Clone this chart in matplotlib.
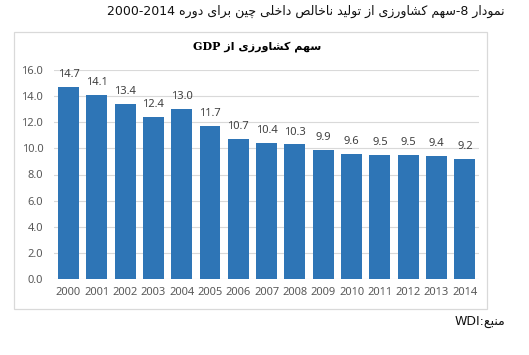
import re
import matplotlib
matplotlib.use("Agg")
import matplotlib.pyplot as plt
from matplotlib.patches import Rectangle

#
# Data
#

years = ["2000", "2001", "2002", "2003", "2004", "2005", "2006", "2007",
         "2008", "2009", "2010", "2011", "2012", "2013", "2014"]
agri_share = [14.7, 14.1, 13.4, 12.4, 13.0, 11.7, 10.7, 10.4,
              10.3, 9.9, 9.6, 9.5, 9.5, 9.4, 9.2]
y_ticks = [0, 2, 4, 6, 8, 10, 12, 14, 16]

fig_title = "نمودار 8-سهم کشاورزی از تولید ناخالص داخلی چین برای دوره 2014-2000"
chart_title = "سهم کشاورزی از GDP"
source_text = "منبع:WDI"

#
# Minimal Arabic/Persian shaping (matplotlib has no bidi/shaping)
#

# isolated, final[, initial, medial]
FORMS = {
    "ا": ("\uFE8D", "\uFE8E"),
    "د": ("\uFEA9", "\uFEAA"),
    "ر": ("\uFEAD", "\uFEAE"),
    "ز": ("\uFEAF", "\uFEB0"),
    "و": ("\uFEED", "\uFEEE"),
    "ب": ("\uFE8F", "\uFE90", "\uFE91", "\uFE92"),
    "ت": ("\uFE95", "\uFE96", "\uFE97", "\uFE98"),
    "خ": ("\uFEA5", "\uFEA6", "\uFEA7", "\uFEA8"),
    "س": ("\uFEB1", "\uFEB2", "\uFEB3", "\uFEB4"),
    "ش": ("\uFEB5", "\uFEB6", "\uFEB7", "\uFEB8"),
    "ص": ("\uFEB9", "\uFEBA", "\uFEBB", "\uFEBC"),
    "ع": ("\uFEC9", "\uFECA", "\uFECB", "\uFECC"),
    "ل": ("\uFEDD", "\uFEDE", "\uFEDF", "\uFEE0"),
    "م": ("\uFEE1", "\uFEE2", "\uFEE3", "\uFEE4"),
    "ن": ("\uFEE5", "\uFEE6", "\uFEE7", "\uFEE8"),
    "ه": ("\uFEE9", "\uFEEA", "\uFEEB", "\uFEEC"),
    "ی": ("\uFBFC", "\uFBFD", "\uFBFE", "\uFBFF"),
    "ک": ("\uFB8E", "\uFB8F", "\uFB90", "\uFB91"),
    "چ": ("\uFB7A", "\uFB7B", "\uFB7C", "\uFB7D"),
}


def rtl(text):
    out = []
    for i, c in enumerate(text):
        if c not in FORMS:
            out.append(c)
            continue
        prev = text[i - 1] if i > 0 else ""
        nxt = text[i + 1] if i + 1 < len(text) else ""
        join_prev = prev in FORMS and len(FORMS[prev]) == 4
        join_next = len(FORMS[c]) == 4 and nxt in FORMS
        idx = 3 if (join_prev and join_next) else 1 if join_prev else 2 if join_next else 0
        out.append(FORMS[c][idx])
    visual = "".join(out)[::-1]
    # keep digits / latin runs left-to-right
    return re.sub(r"[0-9A-Za-z]+", lambda m: m.group(0)[::-1], visual)


#
# Graph
#

W, H = 529, 355
fig = plt.figure(figsize=(W / 100, H / 100), dpi=100)
fig.patch.set_facecolor("white")

# chart frame
fig.patches.append(Rectangle((14 / W, 1 - 309 / H), 473 / W, 277 / H,
                             transform=fig.transFigure, fill=False,
                             edgecolor="#D9D9D9", linewidth=0.9))

axes = fig.add_axes([54.3 / W, 1 - 279 / H, 424.7 / W, 209 / H])
x = range(len(years))
bars = axes.bar(x, agri_share, width=0.74, color="#2E75B6", zorder=3)

for xi, v in zip(x, agri_share):
    axes.annotate(f"{v:.1f}", (xi, v), xytext=(0, 5), textcoords="offset points",
                  ha="center", va="bottom", fontsize=8, color="#404040",
                  family="Noto Sans")

axes.set_xlim(-0.5, len(years) - 0.5)
axes.set_ylim(0, 16)
axes.set_yticks(y_ticks)
axes.set_yticklabels([f"{t:.1f}" for t in y_ticks])
axes.set_xticks(list(x))
axes.set_xticklabels(years)
axes.grid(axis="y", color="#D9D9D9", linewidth=0.8, zorder=0)
for s in axes.spines.values():
    s.set_visible(False)
axes.tick_params(length=0, labelsize=8, labelcolor="#595959", pad=6)
axes.tick_params(axis="y", pad=8)
for lab in axes.get_xticklabels() + axes.get_yticklabels():
    lab.set_family("Noto Sans")

fig.text(505 / W, 1 - 11 / H, rtl(fig_title), ha="right", va="center",
         fontsize=9, family="DejaVu Sans", color="#111111")
fig.text(257 / W, 1 - 46 / H, rtl(chart_title), ha="center", va="center",
         fontsize=8, fontweight="bold", family=["DejaVu Serif", "DejaVu Sans"],
         color="#000000")
fig.text(505 / W, 1 - 322 / H, rtl(source_text), ha="right", va="center",
         fontsize=9, family="DejaVu Sans", color="#111111")

fig.savefig("out.png", dpi=100)
